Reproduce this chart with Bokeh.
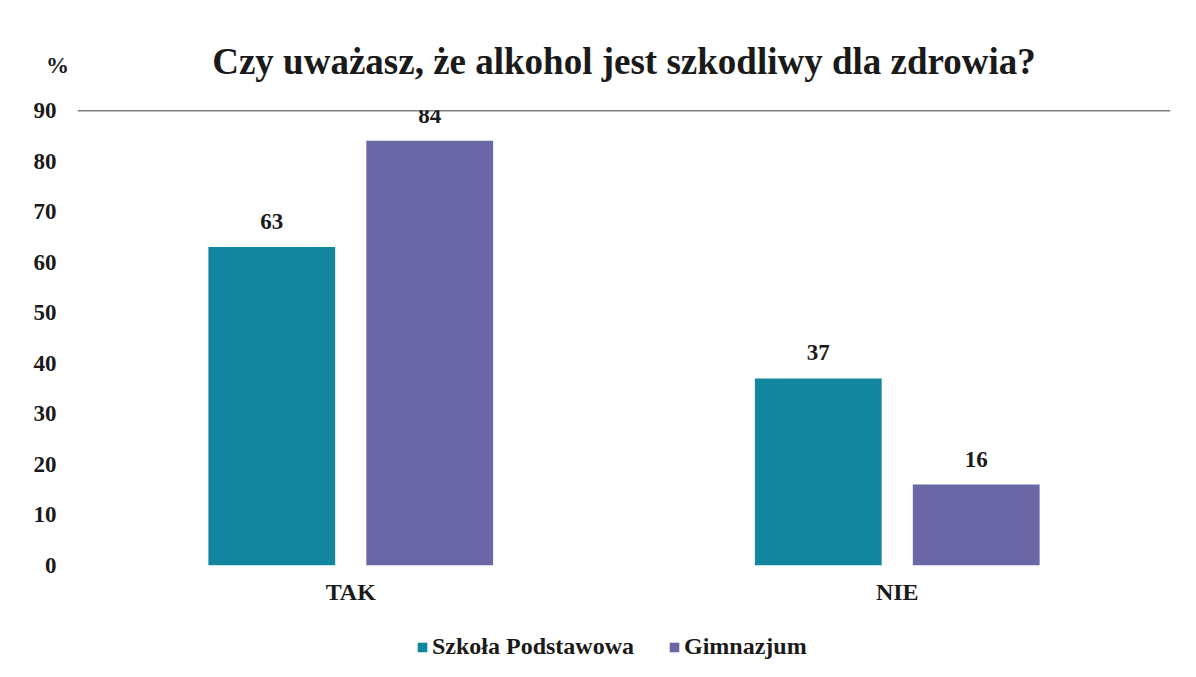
from bokeh.plotting import figure
from bokeh.layouts import column
from bokeh.models import ColumnDataSource, FactorRange, Range1d, FixedTicker, Span, LabelSet, Label, Legend, LegendItem
from bokeh.transform import dodge
from bokeh.embed import file_html
from bokeh.resources import INLINE

categories = ["TAK", "NIE"]
series_names = ["Szkoła Podstawowa", "Gimnazjum"]
szkola_podstawowa = [63, 37]
gimnazjum = [84, 16]
y_ticks = [0, 10, 20, 30, 40, 50, 60, 70, 80, 90]

colors = ["#12869F", "#6B67A7"]
FONT = "Liberation Serif"
TXT = "#1a1a1a"

src = ColumnDataSource(dict(
    cat=categories,
    sp=szkola_podstawowa,
    gim=gimnazjum,
    sp_lbl=[str(v) for v in szkola_podstawowa],
    gim_lbl=[str(v) for v in gimnazjum],
))

p = figure(
    width=1190, height=610,
    x_range=FactorRange(*categories, range_padding=0),
    y_range=Range1d(0, 90),
    output_backend="svg", toolbar_location=None,
    min_border_left=77, min_border_right=20, min_border_top=110, min_border_bottom=45,
)
p.outline_line_color = None
p.background_fill_color = "white"
p.border_fill_color = "white"

off = 0.1445
bw = 0.232
r1 = p.vbar(x=dodge("cat", -off, range=p.x_range), top="sp", width=bw, source=src,
            fill_color=colors[0], line_color=None)
r2 = p.vbar(x=dodge("cat", off, range=p.x_range), top="gim", width=bw, source=src,
            fill_color=colors[1], line_color=None)

for col, lab, o in [("sp", "sp_lbl", -off), ("gim", "gim_lbl", off)]:
    ls = LabelSet(x=dodge("cat", o, range=p.x_range), y=col, text=lab, source=src,
                  text_align="center", text_baseline="bottom", y_offset=18,
                  text_font=FONT, text_font_style="bold", text_font_size="23px",
                  text_color=TXT)
    p.add_layout(ls)

p.add_layout(Span(location=90, dimension="width", line_color="#000000", line_width=1.6))

p.title.text = "Czy uważasz, że alkohol jest szkodliwy dla zdrowia?"
p.title.text_font = FONT
p.title.text_font_size = "37px"
p.title.text_font_style = "bold"
p.title.text_color = TXT
p.title.align = "center"
p.title.offset = -10
p.title.standoff = 58

p.add_layout(Label(x=50, y=500, x_units="screen", y_units="screen", text="%",
                   text_font=FONT, text_font_style="bold", text_font_size="23px",
                   text_color=TXT, text_align="center", text_baseline="middle"), "left")

p.xgrid.grid_line_color = None
p.ygrid.grid_line_color = None

p.yaxis.ticker = FixedTicker(ticks=y_ticks)
p.yaxis.axis_line_color = None
p.yaxis.major_tick_line_color = None
p.yaxis.minor_tick_line_color = None
p.yaxis.major_label_standoff = 15
p.yaxis.major_label_text_font = FONT
p.yaxis.major_label_text_font_style = "bold"
p.yaxis.major_label_text_font_size = "23px"
p.yaxis.major_label_text_color = TXT

p.xaxis.axis_line_color = None
p.xaxis.major_tick_line_color = None
p.xaxis.minor_tick_line_color = None
p.xaxis.major_label_standoff = 7
p.xaxis.major_label_text_font = FONT
p.xaxis.major_label_text_font_style = "bold"
p.xaxis.major_label_text_font_size = "24px"
p.xaxis.major_label_text_color = TXT

# legend row (separate strip so it can sit below the axis labels)
lf = figure(width=1190, height=60, x_range=Range1d(0, 1), y_range=Range1d(0, 1),
            output_backend="svg", toolbar_location=None, min_border=0)
lf.axis.visible = False
lf.grid.grid_line_color = None
lf.outline_line_color = None
lf.background_fill_color = "white"
lf.border_fill_color = "white"
lsrc = ColumnDataSource(dict(x=[float("nan")], top=[float("nan")]))
g1 = lf.vbar(x="x", top="top", width=0.1, source=lsrc, fill_color=colors[0], line_color=None)
g2 = lf.vbar(x="x", top="top", width=0.1, source=lsrc, fill_color=colors[1], line_color=None)
legend = Legend(items=[LegendItem(label=series_names[0], renderers=[g1]),
                       LegendItem(label=series_names[1], renderers=[g2])],
                orientation="horizontal", location=(339, 10),
                label_text_font=FONT, label_text_font_style="bold", label_text_font_size="24px",
                label_text_color=TXT, glyph_width=12, glyph_height=12,
                label_standoff=4, spacing=34, border_line_color=None,
                background_fill_alpha=0, margin=0, padding=0)
lf.add_layout(legend)

layout = column(p, lf, spacing=0)
open("out.html", "w").write(file_html(layout, INLINE))
